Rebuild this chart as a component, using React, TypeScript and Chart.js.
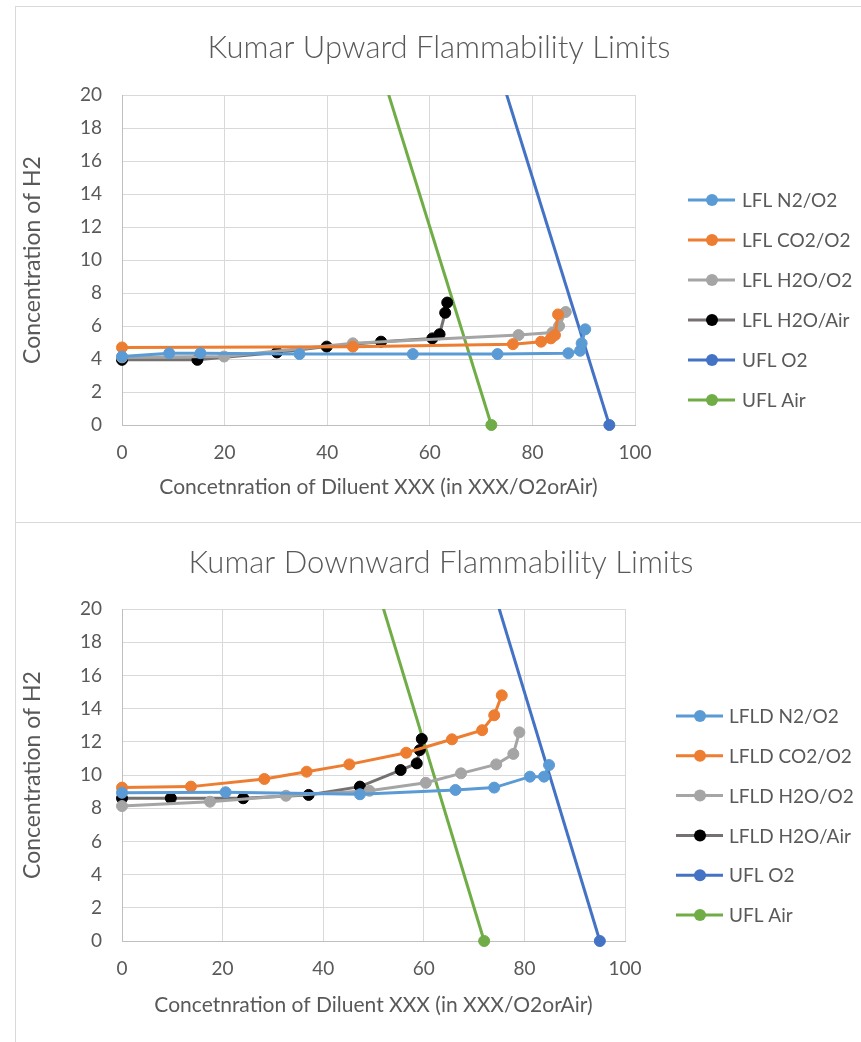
import React, { useEffect, useRef } from "react";
import { Chart, registerables } from "chart.js";

Chart.register(...registerables);

const FONT = "Lato, 'Open Sans', sans-serif";
const TEXT = "#595959";

// ---------- Upward chart data ----------
const upTitle = "Kumar Upward Flammability Limits";
const upLabels = ["LFL N2/O2", "LFL CO2/O2", "LFL H2O/O2", "LFL H2O/Air", "UFL O2", "UFL Air"];

const upN2O2X = [0, 9.2, 15.3, 34.6, 56.7, 73.2, 87, 89.3, 89.6, 90.3];
const upN2O2Y = [4.15, 4.35, 4.35, 4.3, 4.3, 4.3, 4.35, 4.5, 4.95, 5.8];

const upCO2O2X = [0, 45, 76.2, 81.7, 83.6, 84.4, 85];
const upCO2O2Y = [4.7, 4.75, 4.9, 5.05, 5.25, 5.45, 6.7];

const upH2OO2X = [0, 19.9, 45, 77.3, 83.9, 85.2, 86.5];
const upH2OO2Y = [4.1, 4.15, 4.95, 5.45, 5.6, 6.0, 6.85];

const upH2OAirX = [0, 14.7, 30.2, 39.9, 50.5, 60.5, 61.9, 63.0, 63.4];
const upH2OAirY = [3.95, 3.95, 4.4, 4.75, 5.05, 5.25, 5.5, 6.8, 7.42];

// ---------- Downward chart data ----------
const downTitle = "Kumar Downward Flammability Limits";
const downLabels = ["LFLD N2/O2", "LFLD CO2/O2", "LFLD H2O/O2", "LFLD H2O/Air", "UFL O2", "UFL Air"];

const downN2O2X = [0, 20.6, 47.3, 66.3, 74, 81.1, 83.9, 84.9];
const downN2O2Y = [8.93, 8.96, 8.84, 9.1, 9.24, 9.9, 9.9, 10.6];

const downCO2O2X = [0, 13.7, 28.3, 36.7, 45.2, 56.5, 65.6, 71.6, 74, 75.5];
const downCO2O2Y = [9.24, 9.3, 9.76, 10.2, 10.64, 11.34, 12.15, 12.7, 13.6, 14.8];

const downH2OO2X = [0, 17.5, 32.6, 49.2, 60.4, 67.4, 74.4, 77.8, 79];
const downH2OO2Y = [8.13, 8.39, 8.75, 9.05, 9.53, 10.1, 10.64, 11.27, 12.57];

const downH2OAirX = [0, 9.7, 24.1, 37.1, 47.3, 55.4, 58.6, 59.2, 59.6];
const downH2OAirY = [8.6, 8.6, 8.6, 8.8, 9.3, 10.3, 10.7, 11.5, 12.17];

// ---------- Shared upper-limit lines ----------
const uflO2X = [0, 95];
const uflO2Y = [95, 0];
const uflAirX = [0, 72];
const uflAirY = [72, 0];

// ---------- Axes ----------
const xTicks = [0, 20, 40, 60, 80, 100];
const yTicks = [0, 2, 4, 6, 8, 10, 12, 14, 16, 18, 20];
const xAxisTitle = "Concetnration of Diluent XXX (in XXX/O2orAir)";
const yAxisTitle = "Concentration of H2";

const lineColors = ["#5B9BD5", "#ED7D31", "#A5A5A5", "#767171", "#4472C4", "#70AD47"];
const markerColors = ["#5B9BD5", "#ED7D31", "#A5A5A5", "#000000", "#4472C4", "#70AD47"];

function pts(xs: number[], ys: number[]) {
  return xs.map((v, i) => ({ x: v, y: ys[i] }));
}

type Layout = {
  width: number;
  height: number;
  areaRight: number;
  titleX: number;
  titleY: number;
  legendX: number;
  legendTextX: number;
  legendY0: number;
  legendDy: number;
  xAxisH: number;
  padBottom: number;
  padTop: number;
};

function buildConfig(title: string, labels: string[], series: { x: number[]; y: number[] }[], L: Layout): any {
  const datasets = series.map((s, i) => {
    const isUfl = i >= 4;
    return {
      label: labels[i],
      data: pts(s.x, s.y),
      showLine: true,
      borderColor: lineColors[i],
      backgroundColor: markerColors[i],
      pointBackgroundColor: markerColors[i],
      pointBorderColor: markerColors[i],
      pointBorderWidth: 1,
      pointRadius: 5.5,
      borderWidth: 3,
      tension: 0,
      clip: isUfl ? { top: 0, left: false, right: false, bottom: false } : false,
    };
  });

  const decor = {
    id: "decor",
    afterDraw(chart: any) {
      const ctx = chart.ctx;
      ctx.save();
      ctx.fillStyle = TEXT;
      ctx.textAlign = "center";
      ctx.textBaseline = "middle";
      ctx.font = `300 31px ${FONT}`;
      ctx.fillText(title, L.titleX, L.titleY);
      ctx.textAlign = "left";
      ctx.font = `19px ${FONT}`;
      chart.data.datasets.forEach((ds: any, i: number) => {
        const y = L.legendY0 + i * L.legendDy;
        ctx.strokeStyle = ds.borderColor;
        ctx.lineWidth = 3;
        ctx.beginPath();
        ctx.moveTo(L.legendX, y);
        ctx.lineTo(L.legendX + 47, y);
        ctx.stroke();
        ctx.fillStyle = ds.pointBackgroundColor;
        ctx.beginPath();
        ctx.arc(L.legendX + 24, y, 6, 0, Math.PI * 2);
        ctx.fill();
        ctx.fillStyle = TEXT;
        ctx.fillText(ds.label, L.legendTextX, y + 1);
      });
      ctx.restore();
    },
  };

  return {
    type: "scatter",
    data: { datasets },
    plugins: [decor],
    options: {
      responsive: false,
      animation: false,
      devicePixelRatio: 1,
      layout: {
        padding: { left: 0, right: L.width - L.areaRight, top: L.padTop, bottom: L.padBottom },
      },
      plugins: { legend: { display: false }, title: { display: false }, tooltip: { enabled: false } },
      scales: {
        x: {
          type: "linear",
          min: 0,
          max: 100,
          afterBuildTicks(scale: any) {
            scale.ticks = xTicks.map((v) => ({ value: v }));
          },
          afterFit(scale: any) {
            scale.height = L.xAxisH;
          },
          grid: { color: "#d9d9d9", lineWidth: 1, drawTicks: false },
          border: { color: "#bfbfbf", width: 1 },
          ticks: { color: TEXT, font: { family: FONT, size: 19 }, padding: 16 },
          title: {
            display: true,
            text: xAxisTitle,
            color: TEXT,
            font: { family: FONT, size: 21 },
            padding: { top: 4, bottom: 3 },
          },
        },
        y: {
          type: "linear",
          min: 0,
          max: 20,
          afterBuildTicks(scale: any) {
            scale.ticks = yTicks.map((v) => ({ value: v }));
          },
          afterFit(scale: any) {
            scale.width = 106;
          },
          grid: { color: "#d9d9d9", lineWidth: 1, drawTicks: false },
          border: { color: "#bfbfbf", width: 1 },
          ticks: { color: TEXT, font: { family: FONT, size: 19 }, padding: 20 },
          title: {
            display: true,
            text: yAxisTitle,
            color: TEXT,
            font: { family: FONT, size: 23 },
            padding: { top: 3, bottom: 3 },
          },
        },
      },
    },
  };
}

function ChartBox({ make, width, height, style }: { make: () => any; width: number; height: number; style: React.CSSProperties }) {
  const ref = useRef<HTMLCanvasElement>(null);
  useEffect(() => {
    const chart = new Chart(ref.current as HTMLCanvasElement, make());
    return () => chart.destroy();
  }, []);
  return (
    <div style={style}>
      <canvas ref={ref} width={width} height={height} style={{ display: "block", width, height }} />
    </div>
  );
}

const upLayout: Layout = {
  width: 845,
  height: 515,
  areaRight: 619,
  titleX: 423,
  titleY: 41,
  legendX: 672,
  legendTextX: 726,
  legendY0: 193,
  legendDy: 40,
  xAxisH: 78,
  padBottom: 19,
  padTop: 88,
};

const downLayout: Layout = {
  width: 845,
  height: 519,
  areaRight: 609,
  titleX: 425,
  titleY: 40,
  legendX: 660,
  legendTextX: 713,
  legendY0: 193,
  legendDy: 39.8,
  xAxisH: 80,
  padBottom: 21,
  padTop: 86,
};

export default function App() {
  const border = "1px solid #d9d9d9";
  return (
    <div style={{ position: "absolute", left: 15, top: 6, width: 846 }}>
      <ChartBox
        width={845}
        height={515}
        style={{ borderTop: border, borderLeft: border, borderBottom: border, width: 845 }}
        make={() =>
          buildConfig(
            upTitle,
            upLabels,
            [
              { x: upN2O2X, y: upN2O2Y },
              { x: upCO2O2X, y: upCO2O2Y },
              { x: upH2OO2X, y: upH2OO2Y },
              { x: upH2OAirX, y: upH2OAirY },
              { x: uflO2X, y: uflO2Y },
              { x: uflAirX, y: uflAirY },
            ],
            upLayout
          )
        }
      />
      <ChartBox
        width={845}
        height={519}
        style={{ borderLeft: border, width: 845 }}
        make={() =>
          buildConfig(
            downTitle,
            downLabels,
            [
              { x: downN2O2X, y: downN2O2Y },
              { x: downCO2O2X, y: downCO2O2Y },
              { x: downH2OO2X, y: downH2OO2Y },
              { x: downH2OAirX, y: downH2OAirY },
              { x: uflO2X, y: uflO2Y },
              { x: uflAirX, y: uflAirY },
            ],
            downLayout
          )
        }
      />
    </div>
  );
}
